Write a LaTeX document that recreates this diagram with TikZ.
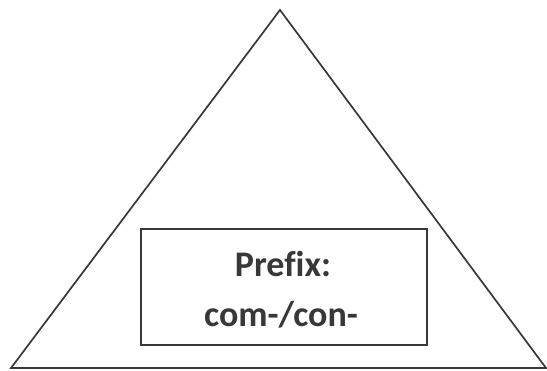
\documentclass[tikz,border=0pt]{standalone}
\usepackage{fontspec}
\setmainfont[Ligatures=NoCommon]{Carlito}
\definecolor{ink}{HTML}{383838}
\begin{document}
\begin{tikzpicture}[x=1pt,y=-1pt,
  edge/.style={draw=ink,line width=1.7pt,line join=miter},
  labelbox/.style={draw=ink,line width=1.9pt,minimum width=286pt,minimum height=116pt,inner sep=0pt},
  label/.style={text=ink,font=\fontsize{36}{50}\selectfont\bfseries,anchor=base}]
\useasboundingbox (0,0) rectangle (547,371);
\coordinate (apex) at (280,10);
\coordinate (bl) at (11,368);
\coordinate (br) at (546,368);
\draw[edge] (bl) -- (apex) -- (br) -- cycle;
\node[labelbox] (box) at (284,287) {};
\node[label] (t1) at (283,277) {Prefix:};
\node[label] (t2) at (281,327) {com-/con-};
\end{tikzpicture}
\end{document}
